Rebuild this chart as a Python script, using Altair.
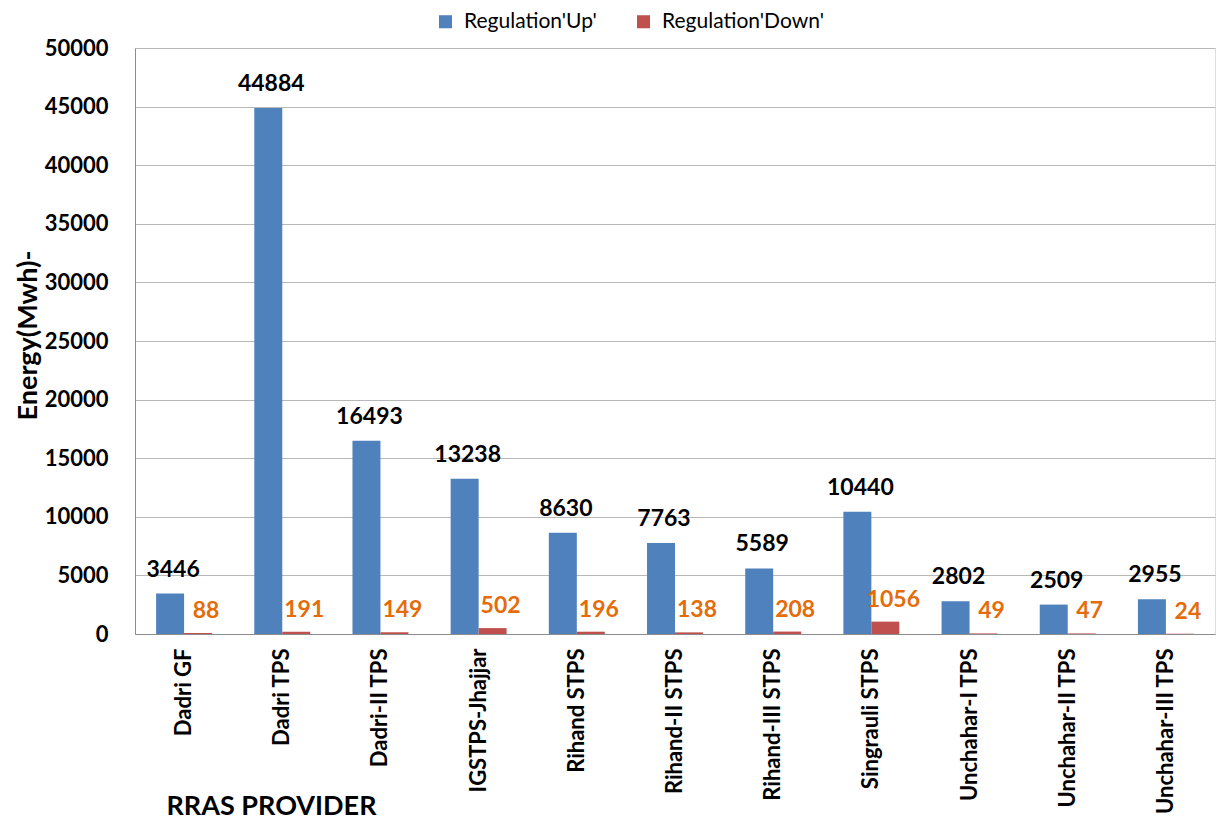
import altair as alt
import pandas as pd

categories = ["Dadri GF", "Dadri TPS", "Dadri-II TPS", "IGSTPS-Jhajjar", "Rihand STPS",
              "Rihand-II STPS", "Rihand-III STPS", "Singrauli STPS", "Unchahar-I TPS",
              "Unchahar-II TPS", "Unchahar-III TPS"]
reg_up = [3446, 44884, 16493, 13238, 8630, 7763, 5589, 10440, 2802, 2509, 2955]
reg_down = [88, 191, 149, 502, 196, 138, 208, 1056, 49, 47, 24]
series = ["Regulation'Up'", "Regulation'Down'"]
y_ticks = list(range(0, 50001, 5000))

rows = []
for c, u, d in zip(categories, reg_up, reg_down):
    rows.append({"cat": c, "series": series[0], "value": u})
    rows.append({"cat": c, "series": series[1], "value": d})
df = pd.DataFrame(rows)

FONT = "Lato"

x = alt.X("cat:N", sort=categories, scale=alt.Scale(paddingInner=0.43, paddingOuter=0.215),
          axis=alt.Axis(title="RRAS PROVIDER", labelAngle=-90, labelAlign="right",
                        labelBaseline="middle", labelFontSize=22, labelFontWeight="bold",
                        labelColor="black", labelPadding=14, labelFont=FONT,
                        ticks=False, domainColor="#8c8c8c", labelLimit=300,
                        titleFont=FONT, titleFontSize=27, titleFontWeight="bold",
                        titleColor="black", titleAnchor="start", titleAlign="left",
                        titleX=31, titleY=180, titleBaseline="alphabetic"))
xo = alt.XOffset("series:N", sort=series, scale=alt.Scale(domain=series))
y = alt.Y("value:Q", scale=alt.Scale(domain=[0, 50000], nice=False),
          axis=alt.Axis(title="Energy(Mwh)-", values=y_ticks, format="d", ticks=False,
                        labelFontSize=22, labelFontWeight="bold", labelColor="black",
                        labelFont=FONT, labelPadding=27, domainColor="#8c8c8c",
                        gridColor="#b8b8b8", grid=True,
                        titleFont=FONT, titleFontSize=27, titleFontWeight="bold",
                        titleColor="black", titleX=-107, titleY=287, titleAlign="center",
                        titleBaseline="middle", titleAngle=-90))

base = alt.Chart(df)

bars = base.mark_bar().encode(
    x=x, xOffset=xo, y=y,
    color=alt.Color("series:N", sort=series,
                    scale=alt.Scale(domain=series, range=["#4F81BD", "#C0504D"]),
                    legend=alt.Legend(title=None, orient="none", direction="horizontal",
                                      legendX=300, legendY=-37, symbolType="square",
                                      symbolSize=170, symbolStrokeWidth=0,
                                      labelFontSize=21, labelFont=FONT, labelColor="black",
                                      columnPadding=36, labelOffset=8, labelLimit=300)),
)

up_text = base.transform_filter(alt.datum.series == series[0]).mark_text(
    fontSize=23, fontWeight="bold", font=FONT, color="black", baseline="bottom", dy=-12, dx=3
).encode(x=x, xOffset=xo, y=y, text=alt.Text("value:Q", format="d"))

down_text = base.transform_filter(alt.datum.series == series[1]).mark_text(
    fontSize=23, fontWeight="bold", font=FONT, color="#E46C0A", baseline="bottom", dy=-10, dx=8
).encode(x=x, xOffset=xo, y=y, text=alt.Text("value:Q", format="d"))

chart = alt.layer(bars, up_text, down_text).properties(
    width=1080, height=586,
    autosize=alt.AutoSizeParams(type="none"),
    padding={"left": 127, "top": 40, "right": 3, "bottom": 188},
).configure_view(stroke=None).configure(background="white")

chart.save("out.html", embed_options={"renderer": "svg", "actions": False})
